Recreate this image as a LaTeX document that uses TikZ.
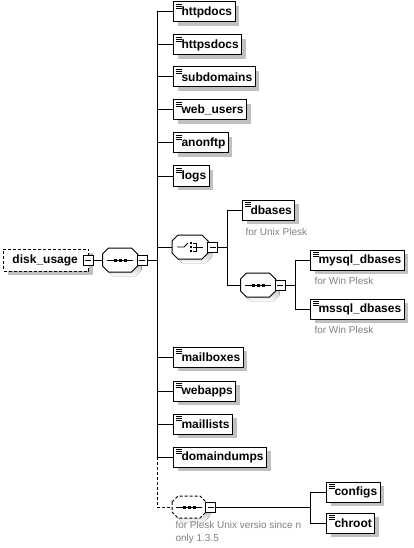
\documentclass[tikz,border=0pt]{standalone}
\usepackage{fontspec}
\setmainfont{Liberation Sans}
\usetikzlibrary{shadows}
\definecolor{shade}{RGB}{192,192,192}
\definecolor{notegray}{RGB}{128,128,128}

% octagon outline round a named node
\newcommand\octpath[1]{([yshift=-6pt]#1.north west) -- ([xshift=6pt]#1.north west) -- ([xshift=-6pt]#1.north east) -- ([yshift=-6pt]#1.north east) -- ([yshift=6pt]#1.south east) -- ([xshift=-6pt]#1.south east) -- ([xshift=6pt]#1.south west) -- ([yshift=6pt]#1.south west) -- cycle}
\newcommand\octshape[2][]{%
  \fill[shade, transform canvas={xshift=4pt, yshift=-4pt}] \octpath{#2};
  \draw[fill=white, #1] \octpath{#2};}
\newcommand\seqmark[1]{%
  \draw[line width=0.8pt] ([xshift=-13pt]#1.center) -- ([xshift=13pt]#1.center);
  \foreach \d in {-5,0,5}
    \fill ([xshift=\d pt]#1.center) +(-1.5pt,-1.5pt) rectangle +(1.5pt,1.5pt);}
\newcommand\choicemark[1]{%
  \draw[line width=0.8pt] ([xshift=-13pt]#1.center) -- ([xshift=-6pt]#1.center) -- ([xshift=-2pt,yshift=4pt]#1.center);
  \foreach \d in {-4,0,4}
    \fill ([xshift=1pt,yshift=\d pt]#1.center) +(-1.3pt,-1.3pt) rectangle +(1.3pt,1.3pt);
  \draw[line width=0.8pt] ([xshift=3pt,yshift=4pt]#1.center) -| ([xshift=6pt,yshift=-4pt]#1.center) -- ([xshift=3pt,yshift=-4pt]#1.center);
  \draw[line width=0.8pt] ([xshift=3pt]#1.center) -- ([xshift=13pt]#1.center);}

\begin{document}
\begin{tikzpicture}[
  x=1pt, y=-1pt,
  line width=1pt,
  shd/.style={drop shadow={shadow xshift=4pt, shadow yshift=-4pt, fill=shade, opacity=1}},
  boxbase/.style={draw, fill=white, anchor=west, minimum height=20pt, inner xsep=0pt, inner ysep=0pt,
    font=\fontsize{12}{14}\selectfont\bfseries, shd},
  box/.style={boxbase, execute at begin node=\hspace*{8pt}, execute at end node=\hspace*{3pt}},
  elem/.style={box, path picture={
    \foreach \k in {2,4,6}
      \draw[line width=0.8pt] ([xshift=2pt,yshift=-\k pt]path picture bounding box.north west) -- ++(6pt,0);}},
  toggle/.style={draw, fill=white, minimum size=10pt, inner sep=0pt, line width=0.8pt,
    path picture={\draw ([xshift=-3pt]path picture bounding box.center) -- ([xshift=3pt]path picture bounding box.center);}},
  octa/.style={inner sep=0pt, minimum width=34pt, minimum height=23pt},
  note/.style={anchor=west, inner sep=0pt, text=notegray, font=\fontsize{10}{13}\selectfont},
  dsh/.style={dash pattern=on 3pt off 2pt}
]
\useasboundingbox (0,0) rectangle (413,548);

% root element and its sequence
\node[boxbase, dsh, minimum height=22pt, execute at begin node=\hspace*{9pt}, execute at end node=\hspace*{11pt}] (du) at (3,260) {disk\_usage};
\node[octa] (seqA) at (120,260) {};
\octshape{seqA} \seqmark{seqA}
\node[toggle] (dum) at (88,260) {};
\node[toggle] (seqAm) at (142,260) {};
\coordinate (tr) at (157,260);

\node[elem] (httpdocs) at (173,12) {httpdocs};
\node[elem] (httpsdocs) at (173,45) {httpsdocs};
\node[elem] (subdomains) at (173,77) {subdomains};
\node[elem] (webusers) at (173,110) {web\_users};
\node[elem] (anonftp) at (173,143) {anonftp};
\node[elem] (logs) at (173,176) {logs};
\node[elem] (mailboxes) at (173,357) {mailboxes};
\node[elem] (webapps) at (173,391) {webapps};
\node[elem] (maillists) at (173,424) {maillists};
\node[elem] (domaindumps) at (173,457) {domaindumps};

% databases choice
\node[octa, minimum width=35pt] (ch) at (190,247) {};
\octshape{ch} \choicemark{ch}
\node[toggle] (chm) at (212.5,247) {};
\coordinate (chtr) at (227,247);
\node[elem] (dbases) at (242,210) {dbases};
\node[note] (dbnote) at (245,232) {for Unix Plesk};

\node[octa] (seqB) at (258,285) {};
\octshape{seqB} \seqmark{seqB}
\node[toggle] (seqBm) at (280,285) {};
\coordinate (sbtr) at (295,285);
\node[elem] (mysql) at (310,260) {mysql\_dbases};
\node[note] (mynote) at (314,281) {for Win Plesk};
\node[elem] (mssql) at (310,309) {mssql\_dbases};
\node[note] (msnote) at (314,330) {for Win Plesk};

% optional sequence
\node[octa, minimum width=33pt, minimum height=21pt] (seqC) at (189,507) {};
\octshape[dsh]{seqC} \seqmark{seqC}
\node[toggle] (seqCm) at (210.5,507) {};
\coordinate (sctr) at (310,507);
\node[elem] (configs) at (326,492) {configs};
\node[elem] (chroot) at (326,523) {chroot};
\node[note, anchor=north west, align=left] (cnote) at (175,521) {for Plesk Unix versio since n\\only 1.3.5};

\draw (dum.east) -- (seqA.west); \draw (seqAm.east) -- (tr);
\draw (tr) |- (httpdocs.west); \draw (tr) |- (httpsdocs.west);
\draw (tr) |- (subdomains.west); \draw (tr) |- (webusers.west);
\draw (tr) |- (anonftp.west); \draw (tr) |- (logs.west);
\draw (tr) |- (ch.west);
\draw (tr) |- (mailboxes.west); \draw (tr) |- (webapps.west);
\draw (tr) |- (maillists.west); \draw (tr) |- (domaindumps.west);
\draw[dsh] (tr |- domaindumps.west) |- (seqC.west);
\draw (chm.east) -- (chtr); \draw (chtr) |- (dbases.west); \draw (chtr) |- (seqB.west);
\draw (seqBm.east) -- (sbtr); \draw (sbtr) |- (mysql.west); \draw (sbtr) |- (mssql.west);
\draw (seqCm.east) -- (sctr); \draw (sctr) |- (configs.west); \draw (sctr) |- (chroot.west);
\end{tikzpicture}
\end{document}
